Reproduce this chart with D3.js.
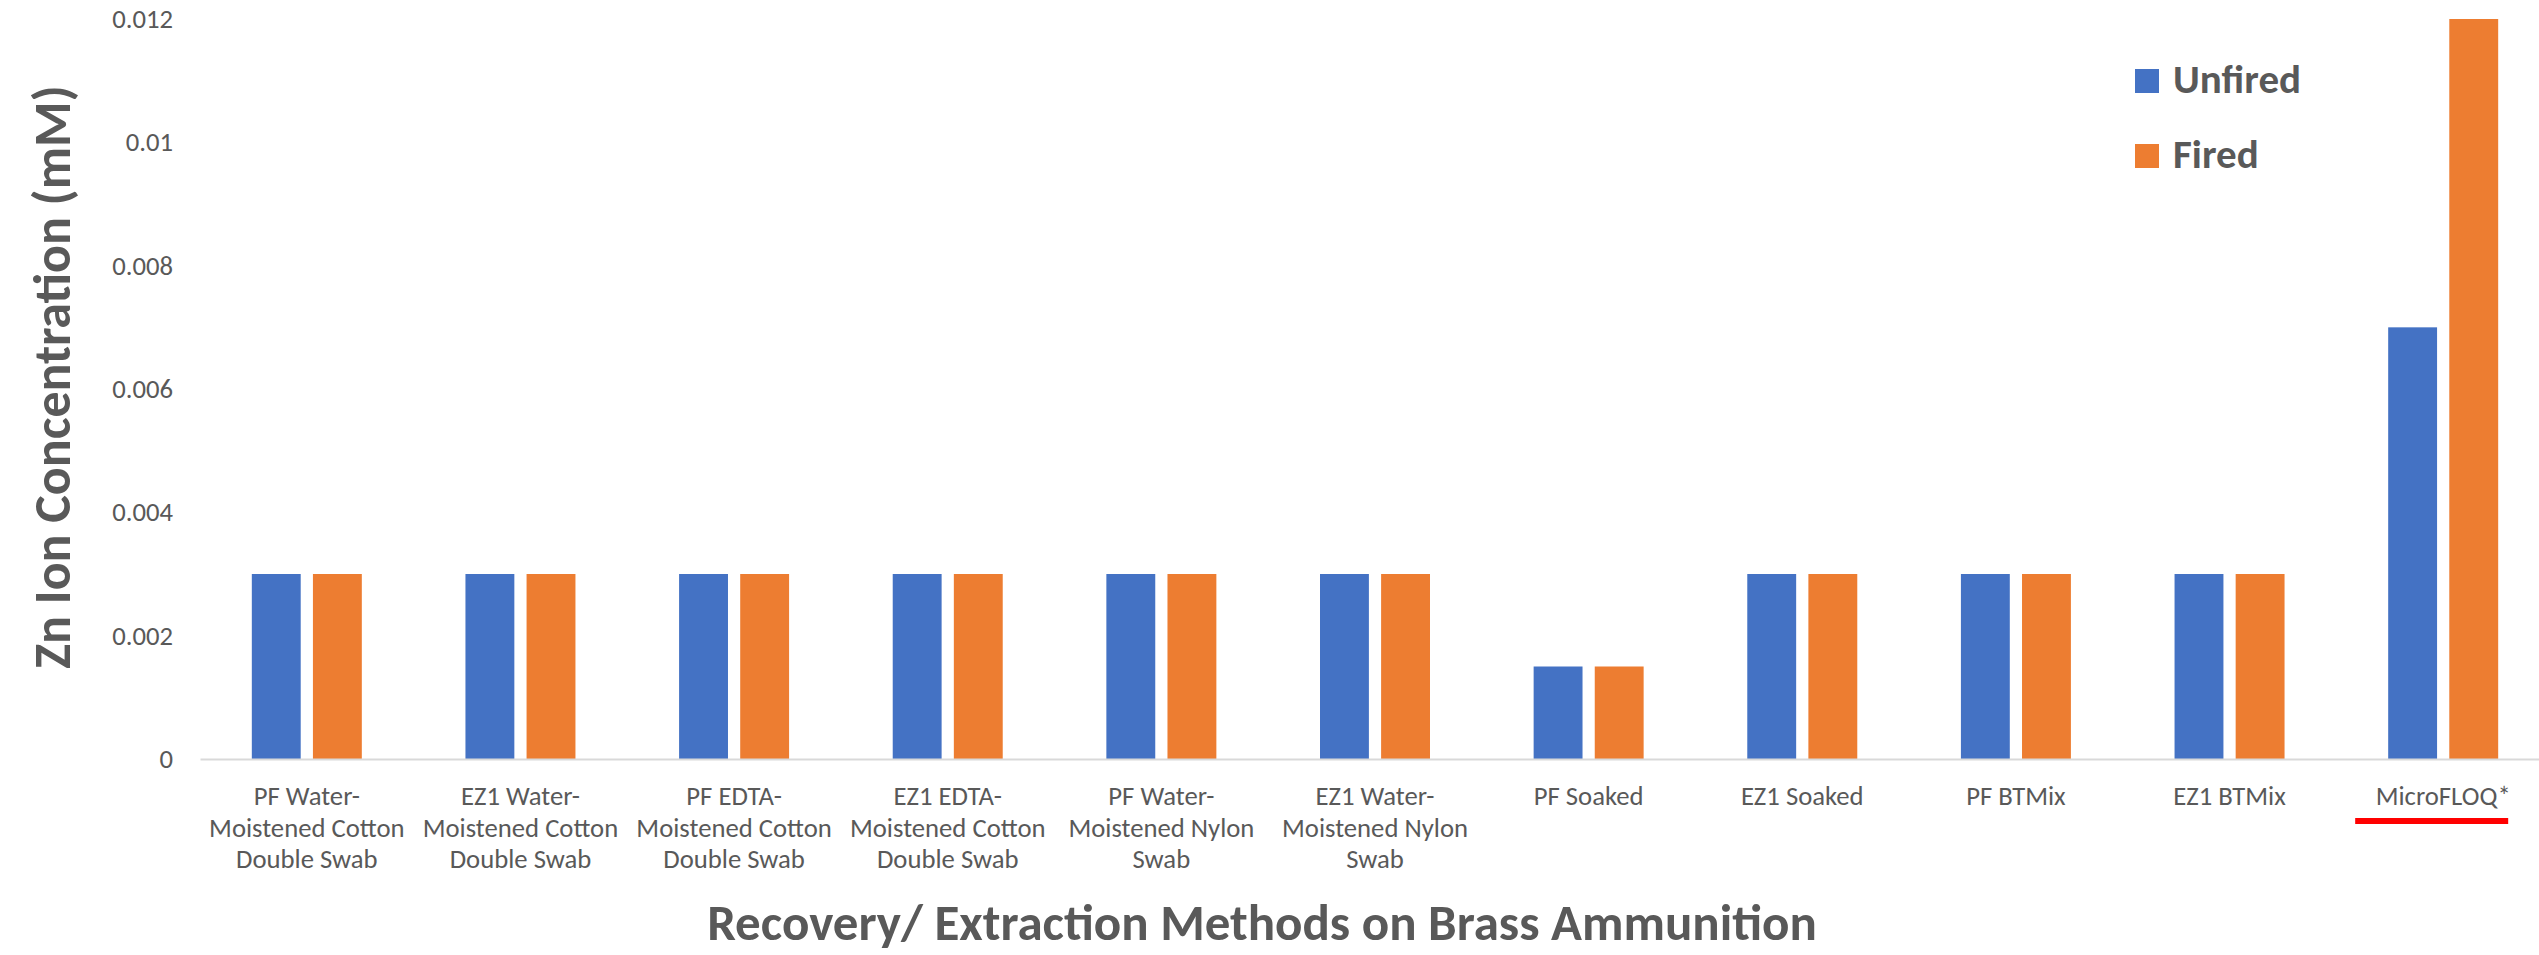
<!DOCTYPE html>
<html>
<head>
<meta charset="utf-8">
<script src="https://cdn.jsdelivr.net/npm/d3@7/dist/d3.min.js"></script>
<style>
  html, body { margin: 0; padding: 0; background: #ffffff; }
  svg { display: block; }
  text { font-family: Calibri, Carlito, Lato, "Open Sans", sans-serif; fill: #595959; }
</style>
</head>
<body>
<svg id="chart" width="2539" height="955"></svg>
<script>
// Zn ion concentration (mM) recovered from brass ammunition, by method
const categories = [
  "PF Water-Moistened Cotton Double Swab",
  "EZ1 Water-Moistened Cotton Double Swab",
  "PF EDTA-Moistened Cotton Double Swab",
  "EZ1 EDTA-Moistened Cotton Double Swab",
  "PF Water-Moistened Nylon Swab",
  "EZ1 Water-Moistened Nylon Swab",
  "PF Soaked",
  "EZ1 Soaked",
  "PF BTMix",
  "EZ1 BTMix",
  "MicroFLOQ*"
];
const categoryLines = [
  ["PF Water-", "Moistened Cotton", "Double Swab"],
  ["EZ1 Water-", "Moistened Cotton", "Double Swab"],
  ["PF EDTA-", "Moistened Cotton", "Double Swab"],
  ["EZ1 EDTA-", "Moistened Cotton", "Double Swab"],
  ["PF Water-", "Moistened Nylon", "Swab"],
  ["EZ1 Water-", "Moistened Nylon", "Swab"],
  ["PF Soaked"],
  ["EZ1 Soaked"],
  ["PF BTMix"],
  ["EZ1 BTMix"],
  ["MicroFLOQ*"]
];
const seriesNames = ["Unfired", "Fired"];
const unfired = [0.003, 0.003, 0.003, 0.003, 0.003, 0.003, 0.0015, 0.003, 0.003, 0.003, 0.007];
const fired   = [0.003, 0.003, 0.003, 0.003, 0.003, 0.003, 0.0015, 0.003, 0.003, 0.003, 0.012];
const yTicks = [0, 0.002, 0.004, 0.006, 0.008, 0.01, 0.012];
const yTickLabels = ["0", "0.002", "0.004", "0.006", "0.008", "0.01", "0.012"];
const colors = ["#4472C4", "#ED7D31"];
const highlighted = "MicroFLOQ*";

const svg = d3.select("#chart");

const x = d3.scaleBand().domain(categories).range([200, 2550]).paddingInner(0).paddingOuter(0);
const x1 = d3.scaleBand().domain(seriesNames).range([-55, 55]).paddingInner(0.2);
const y = d3.scaleLinear().domain([0, 0.012]).range([759, 19]);
const color = d3.scaleOrdinal().domain(seriesNames).range(colors);

const rows = categories.map((c, i) => ({ category: c, lines: categoryLines[i], values: [unfired[i], fired[i]] }));

// Bars
const groups = svg.append("g")
  .selectAll("g")
  .data(rows)
  .join("g")
  .attr("transform", d => `translate(${x(d.category) + x.bandwidth() / 2},0)`);

groups.selectAll("rect")
  .data(d => seriesNames.map((s, k) => ({ series: s, value: d.values[k] })))
  .join("rect")
  .attr("x", d => x1(d.series))
  .attr("width", x1.bandwidth())
  .attr("y", d => y(d.value))
  .attr("height", d => y(0) - y(d.value))
  .attr("fill", d => color(d.series));

// Y axis (labels only)
const yAxis = svg.append("g")
  .attr("transform", "translate(200,0)")
  .call(d3.axisLeft(y).tickValues(yTicks).tickFormat((d, i) => yTickLabels[i]).tickSize(0).tickPadding(27));
yAxis.select(".domain").remove();
yAxis.selectAll("text")
  .attr("font-family", null)
  .style("font-size", "26.7px")
  .style("fill", "#595959");

// X axis baseline
const xAxis = svg.append("g")
  .attr("transform", `translate(0,${y(0)})`)
  .call(d3.axisBottom(x).tickSize(0).tickSizeOuter(0).tickFormat(""));
xAxis.select(".domain").attr("stroke", "#D9D9D9").attr("stroke-width", 2);
xAxis.selectAll(".tick").remove();

// Category labels (multi-line)
const catLabels = svg.append("g")
  .selectAll("text")
  .data(rows)
  .join("text")
  .attr("text-anchor", "middle")
  .attr("transform", d => `translate(${x(d.category) + x.bandwidth() / 2},${y(0) + 46})`)
  .style("font-size", "26.7px");
catLabels.selectAll("tspan")
  .data(d => d.lines)
  .join("tspan")
  .attr("x", 0)
  .attr("dy", (d, i) => i === 0 ? 0 : 31.5)
  .text(d => d);

// Red underline under the highlighted method
svg.append("rect")
  .attr("x", x(highlighted) + x.bandwidth() / 2 - 88)
  .attr("y", y(0) + 59)
  .attr("width", 153)
  .attr("height", 6)
  .attr("fill", "#FF0000");

// Axis titles
svg.append("text")
  .attr("text-anchor", "middle")
  .attr("transform", "translate(70,377) rotate(-90)")
  .style("font-size", "52px")
  .style("font-weight", "bold")
  .text("Zn Ion Concentration (mM)");

svg.append("text")
  .attr("text-anchor", "middle")
  .attr("x", 1262)
  .attr("y", 940)
  .style("font-size", "51px")
  .style("font-weight", "bold")
  .text("Recovery/ Extraction Methods on Brass Ammunition");

// Legend
const legend = svg.append("g")
  .selectAll("g")
  .data(seriesNames)
  .join("g")
  .attr("transform", (d, i) => `translate(2135,${69 + i * 75})`);
legend.append("rect")
  .attr("width", 24)
  .attr("height", 24)
  .attr("fill", d => color(d));
legend.append("text")
  .attr("x", 38)
  .attr("y", 24)
  .style("font-size", "41px")
  .style("font-weight", "bold")
  .text(d => d);
</script>
</body>
</html>
